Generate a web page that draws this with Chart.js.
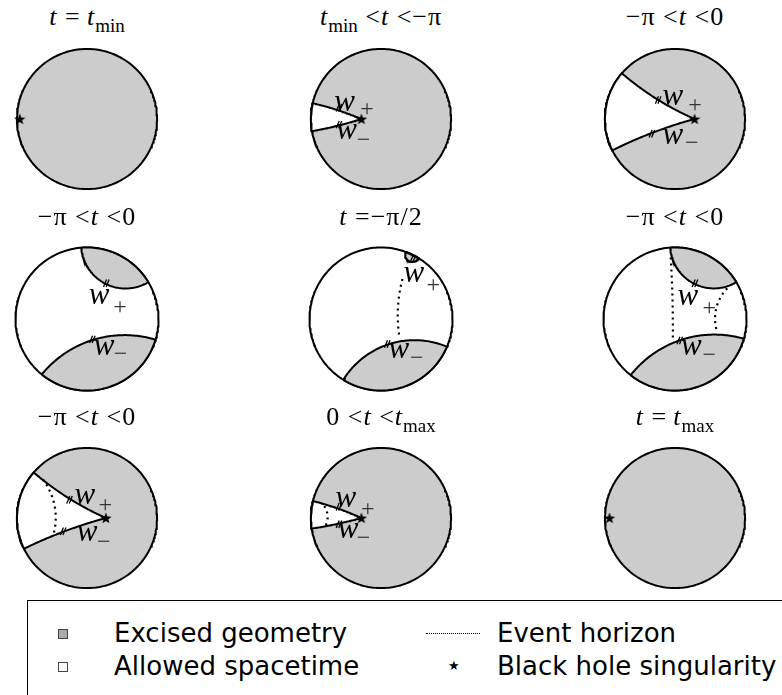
<!DOCTYPE html>
<html>
<head>
<meta charset="utf-8">
<script src="https://cdn.jsdelivr.net/npm/chart.js@4.4.1/dist/chart.umd.min.js"></script>
<style>
body { margin: 0; width: 782px; height: 695px; overflow: hidden; background: #fff; position: relative; font-family: "DejaVu Sans", sans-serif; }
canvas.panel { position: absolute; }
.ttl { position: absolute; width: 260px; text-align: center; font: 26px "Liberation Serif", serif; line-height: 26px; letter-spacing: 1px; white-space: nowrap; color: #000; }
.ttl sub { font-size: 19px; vertical-align: -7px; line-height: 0; letter-spacing: 0; }
#legend { position: absolute; left: 27px; top: 600px; width: 800px; height: 140px; border: 1.5px solid #000; background: #fff; }
.lg { position: absolute; font-size: 26px; line-height: 26px; color: #000; white-space: nowrap; }
.sq { position: absolute; width: 8px; height: 8px; border: 1px solid #444; }
.dots { position: absolute; width: 54px; height: 0; border-top: 1.5px dotted #000; }
</style>
</head>
<body>
<div id="legend">
  <div class="sq" style="left:30px;top:28px;background:#aaaaaa"></div>
  <div class="lg" style="left:86px;top:19px">Excised geometry</div>
  <div class="dots" style="left:398px;top:32px"></div>
  <div class="lg" style="left:469px;top:19px">Event horizon</div>
  <div class="sq" style="left:30px;top:61px;background:#fff"></div>
  <div class="lg" style="left:86px;top:52px">Allowed spacetime</div>
  <div class="lg" style="left:420px;top:58px;font-size:13px;line-height:13px">★</div>
  <div class="lg" style="left:469px;top:52px">Black hole singularity</div>
</div>
<script>
// panel titles
var titles = [
  '<i>t</i> =&thinsp;<i>t</i><sub>min</sub>',
  '<i>t</i><sub>min</sub> &lt;<i>t</i> &lt;−π',
  '−π &lt;<i>t</i> &lt;0',
  '−π &lt;<i>t</i> &lt;0',
  '<i>t</i> =−π/2',
  '−π &lt;<i>t</i> &lt;0',
  '−π &lt;<i>t</i> &lt;0',
  '0 &lt;<i>t</i> &lt;<i>t</i><sub>max</sub>',
  '<i>t</i> =&thinsp;<i>t</i><sub>max</sub>'
];

// is the whole disk excised (grey) before cutting the allowed region out
var greyDisk = [true, true, true, false, false, false, true, true, true];

// black hole singularity (unit disk coordinates)
var singularity = [[-0.96, 0], [-0.28, 0], [0.28, 0], null, null, null, [0.27, 0], [-0.28, 0], [-0.935, 0]];

// allowed wedge: boundary angles (deg) where w+ and w- meet the rim
var wedgeAngles = [null, [167, 190], [139.3, 206.6], null, null, null, [139.5, 206], [166, 188.7], null];

// excised caps: pairs of boundary angles (deg)
var capAngles = [
  [], [], [],
  [[94.6, 31], [-129.2, -16.8]],
  [[70, 58], [-121.8, -22.8]],
  [[93.8, 31], [-128.3, -16]],
  [], [], []
];

// event horizons: end points
var horizons = [
  [], [], [], [],
  [[[0.30, 0.56], [0.26, -0.27]]],
  [[[-0.06, 0.86], [-0.03, -0.30]], [[0.73, 0.43], [0.58, -0.15]]],
  [[[-0.63, 0.55], [-0.48, -0.24]]],
  [[[-0.81, 0.17], [-0.79, -0.11]]],
  []
];

// double tick marks on w+ / w-
var ticks = [
  [], [[-0.6, 0.16], [-0.6, -0.08]], [[-0.24, 0.27], [-0.33, -0.21]],
  [[0.27, 0.5], [0.075, -0.285]], [[0.447, 0.842], [0.088, -0.35]], [[0.28, 0.5], [0.066, -0.3]],
  [[-0.25, 0.26], [-0.34, -0.19]], [[-0.6, 0.16], [-0.6, -0.09]], []
];

// labels: [sub, w position, sub position]
var wLabels = [
  [],
  [['+', [-0.52, 0.22], [-0.2, 0.14]], ['−', [-0.49, -0.19], [-0.25, -0.30]]],
  [['+', [-0.03, 0.30], [0.285, 0.2]], ['−', [-0.03, -0.25], [0.24, -0.34]]],
  [['+', [0.17, 0.31], [0.46, 0.17]], ['−', [0.24, -0.41], [0.47, -0.49]]],
  [['+', [0.46, 0.61], [0.73, 0.48]], ['−', [0.25, -0.45], [0.5, -0.55]]],
  [['+', [0.18, 0.30], [0.48, 0.16]], ['−', [0.23, -0.41], [0.48, -0.5]]],
  [['+', [-0.03, 0.30], [0.26, 0.19]], ['−', [0.0, -0.235], [0.24, -0.34]]],
  [['+', [-0.50, 0.25], [-0.19, 0.13]], ['−', [-0.47, -0.18], [-0.25, -0.29]]],
  []
];

var GREY = '#cccccc';
var colX = [87, 381, 675];
var rowY = [119, 319, 518];
var titleBase = [26, 226, 426];
var SIZE = 180;
var RAD = 76;
var VIEW = (SIZE / 2) / RAD;

function geodesic(A, B, n) {
  var a2 = (1 + A[0] * A[0] + A[1] * A[1]) / 2;
  var b2 = (1 + B[0] * B[0] + B[1] * B[1]) / 2;
  var det = A[0] * B[1] - A[1] * B[0];
  if (Math.abs(det) < 1e-6) return [{x: A[0], y: A[1]}, {x: B[0], y: B[1]}];
  var cx = (a2 * B[1] - A[1] * b2) / det;
  var cy = (A[0] * b2 - a2 * B[0]) / det;
  var tA = Math.atan2(A[1] - cy, A[0] - cx);
  var tB = Math.atan2(B[1] - cy, B[0] - cx);
  var d = tB - tA;
  while (d > Math.PI) d -= 2 * Math.PI;
  while (d < -Math.PI) d += 2 * Math.PI;
  var r = Math.hypot(A[0] - cx, A[1] - cy);
  var pts = [];
  for (var i = 0; i <= n; i++) {
    var t = tA + d * i / n;
    pts.push({x: cx + r * Math.cos(t), y: cy + r * Math.sin(t)});
  }
  return pts;
}

function rimPoint(deg) {
  var a = deg * Math.PI / 180;
  return [Math.cos(a), Math.sin(a)];
}

function rim(a1, a2, n) {
  var d = a2 - a1;
  while (d > 180) d -= 360;
  while (d < -180) d += 360;
  var pts = [];
  for (var i = 0; i <= n; i++) {
    var p = rimPoint(a1 + d * i / n);
    pts.push({x: p[0], y: p[1]});
  }
  return pts;
}

function fullCircle() {
  var pts = [];
  for (var i = 0; i <= 240; i++) {
    var p = rimPoint(i * 360 / 240);
    pts.push({x: p[0], y: p[1]});
  }
  return pts;
}

// filled star used for the singularity marker
var starImg = document.createElement('canvas');
starImg.width = 12; starImg.height = 12;
(function () {
  var c = starImg.getContext('2d');
  c.fillStyle = '#000';
  c.beginPath();
  for (var i = 0; i < 10; i++) {
    var r = i % 2 === 0 ? 6 : 2.5;
    var a = -Math.PI / 2 + i * Math.PI / 5;
    var x = 6 + r * Math.cos(a), y = 6.5 + r * Math.sin(a);
    if (i === 0) c.moveTo(x, y); else c.lineTo(x, y);
  }
  c.closePath();
  c.fill();
})();

var labelPlugin = {
  id: 'wlabels',
  afterDatasetsDraw: function (chart) {
    var labs = chart.options.plugins.wlabels.items || [];
    var ctx = chart.ctx, sx = chart.scales.x, sy = chart.scales.y;
    ctx.save();
    ctx.textAlign = 'center';
    ctx.textBaseline = 'alphabetic';
    labs.forEach(function (l) {
      ctx.fillStyle = '#000';
      ctx.font = 'italic 31px "Liberation Serif"';
      ctx.fillText('w', sx.getPixelForValue(l[1][0]), sy.getPixelForValue(l[1][1]) + 7);
      ctx.font = '24px "Liberation Serif"';
      ctx.fillStyle = '#333';
      ctx.fillText(l[0], sx.getPixelForValue(l[2][0]), sy.getPixelForValue(l[2][1]) + 7);
    });
    ctx.restore();
  }
};

for (var k = 0; k < 9; k++) {
  var cx = colX[k % 3], cy = rowY[Math.floor(k / 3)];

  var t = document.createElement('div');
  t.className = 'ttl';
  t.innerHTML = titles[k];
  t.style.left = (cx - 130) + 'px';
  t.style.top = (titleBase[Math.floor(k / 3)] - 22) + 'px';
  document.body.appendChild(t);

  var cv = document.createElement('canvas');
  cv.className = 'panel';
  cv.width = SIZE; cv.height = SIZE;
  cv.style.left = (cx - SIZE / 2) + 'px';
  cv.style.top = (cy - SIZE / 2) + 'px';
  document.body.appendChild(cv);

  var datasets = [];
  datasets.push({
    data: fullCircle(), showLine: true, fill: 'shape',
    backgroundColor: greyDisk[k] ? GREY : '#ffffff',
    borderColor: '#000', borderWidth: 2, pointRadius: 0, order: 10
  });

  if (wedgeAngles[k]) {
    var S = singularity[k];
    var aP = wedgeAngles[k][0], aM = wedgeAngles[k][1];
    var poly = geodesic(S, rimPoint(aP), 60)
      .concat(rim(aP, aM, 40))
      .concat(geodesic(rimPoint(aM), S, 60));
    datasets.push({
      data: poly, showLine: true, fill: 'shape', backgroundColor: '#ffffff',
      borderColor: '#000', borderWidth: 2, pointRadius: 0, order: 9
    });
  }

  capAngles[k].forEach(function (c) {
    var poly = geodesic(rimPoint(c[0]), rimPoint(c[1]), 80).concat(rim(c[1], c[0], 40));
    datasets.push({
      data: poly, showLine: true, fill: 'shape', backgroundColor: GREY,
      borderColor: '#000', borderWidth: 2, pointRadius: 0, order: 9
    });
  });

  horizons[k].forEach(function (h) {
    datasets.push({
      data: geodesic(h[0], h[1], 60), showLine: true, fill: false,
      borderColor: '#000', borderWidth: 2.2, borderDash: [2, 4], pointRadius: 0, order: 5
    });
  });

  if (ticks[k].length) {
    var tp = [];
    ticks[k].forEach(function (p) {
      tp.push({x: p[0] - 0.018, y: p[1]});
      tp.push({x: p[0] + 0.018, y: p[1]});
    });
    datasets.push({
      data: tp, showLine: false, pointStyle: 'line', rotation: -68,
      pointRadius: 4, pointBorderWidth: 1.3, borderColor: '#000', order: 2
    });
  }

  if (singularity[k]) {
    datasets.push({
      data: [{x: singularity[k][0], y: singularity[k][1]}], showLine: false,
      pointStyle: starImg, pointRadius: 6, order: 1
    });
  }

  new Chart(cv.getContext('2d'), {
    type: 'scatter',
    data: {datasets: datasets},
    options: {
      responsive: false,
      animation: false,
      events: [],
      layout: {padding: 0},
      scales: {
        x: {type: 'linear', min: -VIEW, max: VIEW, display: false},
        y: {type: 'linear', min: -VIEW, max: VIEW, display: false}
      },
      plugins: {
        legend: {display: false},
        tooltip: {enabled: false},
        wlabels: {items: wLabels[k]}
      }
    },
    plugins: [labelPlugin]
  });
}
</script>
</body>
</html>
